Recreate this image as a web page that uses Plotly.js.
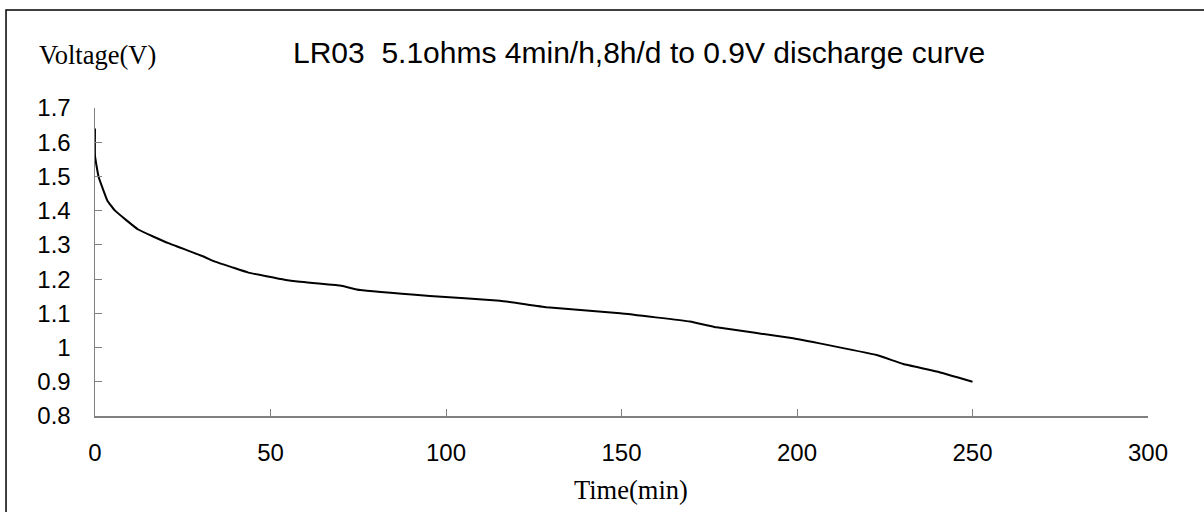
<!DOCTYPE html>
<html>
<head>
<meta charset="utf-8">
<script src="https://cdn.plot.ly/plotly-3.0.1.min.js"></script>
<style>
html,body{margin:0;padding:0;background:#fff;}
#chart{width:1204px;height:512px;}
</style>
</head>
<body>
<div id="chart"></div>
<script>
// Discharge curve data
const timeMin = [0, 0, 1, 3.5, 5.7, 12.3, 20.9, 30.9, 34.2, 38.9, 43.7, 54, 58.4, 69.8, 75.5, 95.4, 115.4, 128.7, 149.6, 169.5, 177.1, 198.9, 222.7, 230.3, 239.8, 250];
const voltage = [1.64, 1.56, 1.50, 1.43, 1.40, 1.345, 1.305, 1.266, 1.251, 1.235, 1.219, 1.198, 1.192, 1.181, 1.168, 1.151, 1.137, 1.118, 1.100, 1.076, 1.059, 1.027, 0.978, 0.952, 0.930, 0.900];
const xTicks = [0, 50, 100, 150, 200, 250, 300];
const yTicks = [0.8, 0.9, 1, 1.1, 1.2, 1.3, 1.4, 1.5, 1.6, 1.7];
const yTickText = ['0.8', '0.9', '1', '1.1', '1.2', '1.3', '1.4', '1.5', '1.6', '1.7'];
const chartTitle = 'LR03  5.1ohms 4min/h,8h/d to 0.9V discharge curve';
const yLabel = 'Voltage(V)';
const xLabel = 'Time(min)';

const sans = 'Liberation Sans, Arial, sans-serif';
const serif = 'Liberation Serif, Times New Roman, serif';

const trace = {
  x: timeMin, y: voltage, type: 'scatter', mode: 'lines',
  line: {color: '#000', width: 2, shape: 'spline', smoothing: 0.3},
  hoverinfo: 'skip'
};

const layout = {
  width: 1204, height: 512,
  margin: {l: 95, r: 56, t: 108, b: 96},
  paper_bgcolor: '#fff', plot_bgcolor: '#fff',
  showlegend: false,
  font: {family: sans, color: '#000', size: 21},
  xaxis: {
    range: [0, 300], tickvals: xTicks, ticktext: xTicks.map(String),
    showgrid: false, zeroline: false, showline: true, linecolor: '#808080', linewidth: 1.5,
    ticks: 'inside', ticklen: 7, tickcolor: '#808080', tickwidth: 1,
    ticklabelstandoff: 15,
    tickfont: {family: sans, size: 24, color: '#000'}
  },
  yaxis: {
    range: [0.8, 1.7], tickvals: yTicks, ticktext: yTickText,
    showgrid: false, zeroline: false, showline: true, linecolor: '#808080', linewidth: 1.5,
    ticks: 'inside', ticklen: 7, tickcolor: '#808080', tickwidth: 1,
    ticklabelstandoff: 18,
    tickfont: {family: sans, size: 24, color: '#000'}
  },
  annotations: [
    {text: chartTitle, xref: 'paper', yref: 'paper', x: 0.517, y: 1.18, xanchor: 'center', yanchor: 'middle',
     showarrow: false, font: {family: sans, size: 30, color: '#000'}},
    {text: yLabel, xref: 'paper', yref: 'paper', x: -0.055, y: 1.172, xanchor: 'left', yanchor: 'middle',
     showarrow: false, font: {family: serif, size: 26.5, color: '#000'}},
    {text: xLabel, xref: 'paper', yref: 'paper', x: 0.509, y: -0.24, xanchor: 'center', yanchor: 'middle',
     showarrow: false, font: {family: serif, size: 26.5, color: '#000'}}
  ],
  shapes: [
    {type: 'rect', xref: 'paper', yref: 'paper', x0: -0.0845, x1: 1.1, y0: -0.4, y1: 1.318,
     line: {color: '#000', width: 1.5}, fillcolor: 'rgba(0,0,0,0)', layer: 'below'}
  ]
};

Plotly.newPlot('chart', [trace], layout, {displayModeBar: false, staticPlot: true});
</script>
</body>
</html>
